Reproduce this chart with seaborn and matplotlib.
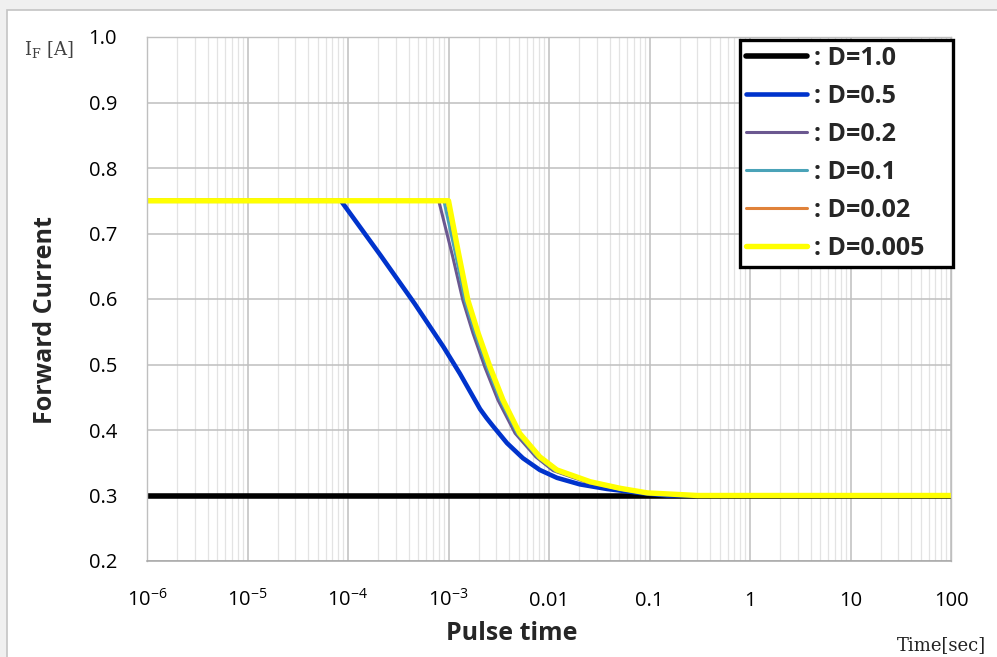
import numpy as np
import pandas as pd
import matplotlib
matplotlib.use("Agg")
import matplotlib.pyplot as plt
import seaborn as sns
from matplotlib.patches import Rectangle
from matplotlib.ticker import FixedLocator, FixedFormatter, NullFormatter

# ---------------- data ----------------
labels = [": D=1.0", ": D=0.5", ": D=0.2", ": D=0.1", ": D=0.02", ": D=0.005"]

t_d10 = [1e-6, 100]
v_d10 = [0.30, 0.30]

t_d05 = [1e-6, 8.5e-5, 2.1e-4, 4.6e-4, 8.9e-4, 1.3e-3, 2.06e-3, 2.4e-3, 2.77e-3, 3.82e-3, 5.5e-3,
         8.1e-3, 1.2e-2, 2.03e-2, 3.77e-2, 8e-2, 0.15, 1, 100]
v_d05 = [0.75, 0.75, 0.667, 0.593, 0.527, 0.486, 0.432, 0.418, 0.406, 0.380, 0.357,
         0.339, 0.327, 0.317, 0.310, 0.304, 0.300, 0.300, 0.300]

t_d02 = [1e-6, 8e-4, 1.1e-3, 1.39e-3, 1.75e-3, 2.3e-3, 3.1e-3, 4.6e-3, 7.4e-3, 1.1e-2, 2.4e-2, 5e-2,
         9.5e-2, 0.3, 100]
v_d02 = [0.75, 0.75, 0.665, 0.598, 0.548, 0.496, 0.446, 0.395, 0.359, 0.338, 0.320, 0.310,
         0.303, 0.300, 0.300]

t_d01 = [1e-6, 9e-4, 1.17e-3, 1.46e-3, 1.84e-3, 2.43e-3, 3.27e-3, 4.83e-3, 7.7e-3, 1.15e-2, 2.5e-2, 5e-2,
         9.5e-2, 0.3, 100]
v_d01 = [0.75, 0.75, 0.670, 0.598, 0.548, 0.496, 0.446, 0.395, 0.359, 0.338, 0.321, 0.310,
         0.303, 0.300, 0.300]

t_d002 = [1e-6, 9.7e-4, 1.22e-3, 1.52e-3, 1.92e-3, 2.53e-3, 3.4e-3, 5.0e-3, 8.0e-3, 1.18e-2, 2.55e-2, 5.1e-2,
          9.5e-2, 0.3, 100]
v_d002 = [0.75, 0.75, 0.675, 0.598, 0.548, 0.496, 0.446, 0.395, 0.359, 0.339, 0.321, 0.311,
          0.304, 0.300, 0.300]

t_d0005 = [1e-6, 1e-3, 1.25e-3, 1.56e-3, 1.97e-3, 2.59e-3, 3.48e-3, 5.1e-3, 8.1e-3, 1.2e-2, 2.57e-2, 5.1e-2,
           9.5e-2, 0.3, 100]
v_d0005 = [0.75, 0.75, 0.672, 0.598, 0.548, 0.496, 0.446, 0.395, 0.359, 0.339, 0.321, 0.311,
           0.304, 0.300, 0.300]

x_ticks = [1e-6, 1e-5, 1e-4, 1e-3, 1e-2, 1e-1, 1, 10, 100]
x_ticklabels = [r"$\mathregular{10^{-6}}$", r"$\mathregular{10^{-5}}$", r"$\mathregular{10^{-4}}$",
                r"$\mathregular{10^{-3}}$", "0.01", "0.1", "1", "10", "100"]
y_ticks = [0.2, 0.3, 0.4, 0.5, 0.6, 0.7, 0.8, 0.9, 1.0]

series_t = [t_d10, t_d05, t_d02, t_d01, t_d002, t_d0005]
series_v = [v_d10, v_d05, v_d02, v_d01, v_d002, v_d0005]

# ---------------- style ----------------
colors = ["#000000", "#0033cc", "#6b5890", "#4aa3b8", "#e0823a", "#ffff00"]
widths = [4.0, 3.3, 2.2, 2.2, 2.2, 3.9]

sns.set_theme(style="white")
plt.rcParams["font.family"] = ["Open Sans", "DejaVu Sans"]

fig = plt.figure(figsize=(9.97, 6.57), dpi=100)
fig.patch.set_facecolor("#f0f0f0")
panel = Rectangle((7 / 997, -0.05), 1.0, (657 - 10) / 657 + 0.05, transform=fig.transFigure,
                  facecolor="white", edgecolor="#c4c4c4", linewidth=1.2, zorder=-10)
fig.add_artist(panel)

ax = fig.add_axes([147 / 997, 1 - 561 / 657, (951 - 147) / 997, (561 - 37) / 657])
ax.set_facecolor("white")

for t, v, lab, c, w in zip(series_t, series_v, labels, colors, widths):
    df = pd.DataFrame({"t": t, "v": v})
    sns.lineplot(data=df, x="t", y="v", ax=ax, color=c, linewidth=w, label=lab,
                 estimator=None, sort=False)

ax.set_xscale("log")
ax.set_xlim(1e-6, 100)
ax.set_ylim(0.2, 1.0)

ax.xaxis.set_major_locator(FixedLocator(x_ticks))
ax.xaxis.set_major_formatter(FixedFormatter(x_ticklabels))
minor = [m * 10.0 ** e for e in range(-6, 2) for m in range(2, 10)]
ax.xaxis.set_minor_locator(FixedLocator(minor))
ax.xaxis.set_minor_formatter(NullFormatter())
ax.yaxis.set_major_locator(FixedLocator(y_ticks))
ax.set_yticklabels([f"{y:.1f}" for y in y_ticks])

ax.grid(which="major", axis="both", color="#bfbfbf", linewidth=1.1, zorder=0)
ax.grid(which="minor", axis="x", color="#e3e3e3", linewidth=0.9, zorder=0)
ax.set_axisbelow(True)

for s in ["top", "right", "left"]:
    ax.spines[s].set_color("#bfbfbf")
    ax.spines[s].set_linewidth(1.0)
ax.spines["bottom"].set_color("#a6a6a6")
ax.spines["bottom"].set_linewidth(1.1)

ax.tick_params(axis="x", which="major", direction="out", length=3.6, width=1, color="#a6a6a6",
               labelsize=14.5, pad=29, labelcolor="#000000")
ax.tick_params(axis="x", which="minor", length=0)
ax.tick_params(axis="y", which="major", length=0, labelsize=14.5, pad=21.5, labelcolor="#000000")
for lbl in ax.get_xticklabels():
    lbl.set_verticalalignment("baseline")

ax.set_xlabel("")
ax.set_ylabel("")

fig.text(512 / 997, 1 - 634 / 657, "Pulse time", ha="center", va="center",
         fontsize=18, fontweight="bold")
fig.text(45 / 997, 1 - 320 / 657, "Forward Current", ha="center", va="center",
         rotation=90, fontsize=18, fontweight="bold")
fig.text(49 / 997, 1 - 50 / 657, r"I$_{\mathregular{F}}$ [A]", ha="center", va="center",
         fontsize=13, family=["DejaVu Serif"], color="#404040")
fig.text(941 / 997, 1 - 645 / 657, "Time[sec]", ha="center", va="center",
         fontsize=13, family=["DejaVu Serif"], color="#222222")

x0 = (740 - 147) / 804
wid = (953 - 740) / 804
top = 1 - (40 - 37) / 524
leg = ax.legend(loc="upper left", bbox_to_anchor=(x0, 0.3, wid, top - 0.3), mode="expand",
                borderaxespad=0, frameon=True, fancybox=False, framealpha=1, edgecolor="#000000",
                prop={"size": 18, "weight": "bold"}, handlelength=2.45, handletextpad=0.25,
                labelspacing=0.52, borderpad=0.24)
leg.get_frame().set_linewidth(2.4)
leg.set_zorder(20)

fig.savefig("out.png", dpi=100, facecolor=fig.get_facecolor())
